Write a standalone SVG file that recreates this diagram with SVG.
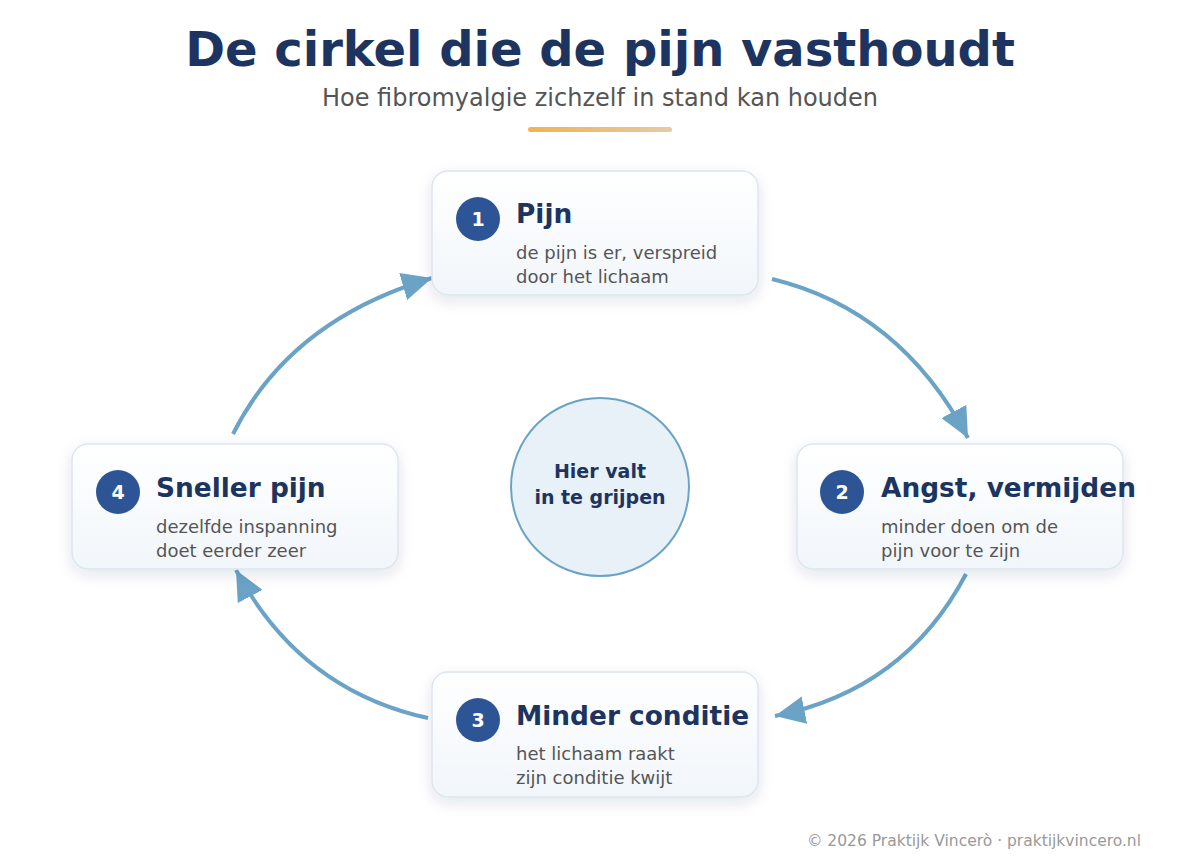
<svg xmlns="http://www.w3.org/2000/svg" width="1200" height="864" viewBox="0 0 1200 864">
<defs>
<linearGradient id="cg" x1="0" y1="0" x2="0" y2="1"><stop offset="0" stop-color="#ffffff"/><stop offset="1" stop-color="#f1f6fb"/></linearGradient>
<linearGradient id="ul" x1="0" y1="0" x2="1" y2="0"><stop offset="0" stop-color="#f0b453"/><stop offset="1" stop-color="#e6c9a6"/></linearGradient>
<filter id="sh" x="-20%" y="-20%" width="140%" height="150%"><feDropShadow dx="0" dy="5" stdDeviation="7" flood-color="#1d3461" flood-opacity="0.12"/></filter>
<marker id="ah" markerUnits="userSpaceOnUse" markerWidth="32" markerHeight="28" refX="30" refY="14" orient="auto"><path d="M0,0 L30,14 L0,28 Z" fill="#6aa3c6"/></marker>
<style>
text{font-family:"DejaVu Sans","Noto Sans",sans-serif}
.card{fill:url(#cg);stroke:#dde5ee;stroke-width:1.5;filter:url(#sh)}
.num{fill:#2d5596}
.nt{fill:#fff;font-size:19px;font-weight:bold;text-anchor:middle}
.tt{fill:#1d3461;font-size:26.4px;font-weight:bold}
.st{fill:#555;font-size:18px}
.arc{fill:none;stroke:#6aa3c6;stroke-width:4;marker-end:url(#ah)}
</style>
</defs>
<rect width="1200" height="864" fill="#fff"/>
<text x="600" y="66" text-anchor="middle" font-size="48" font-weight="bold" fill="#1d3461">De cirkel die de pijn vasthoudt</text>
<text x="600" y="106" text-anchor="middle" font-size="24" fill="#555">Hoe fibromyalgie zichzelf in stand kan houden</text>
<rect x="528" y="127" width="144" height="5" rx="2.5" fill="url(#ul)"/>
<g id="connectors">
<path class="arc" d="M772,279 Q900,310 968,438"/>
<path class="arc" d="M966,574 Q905,690 775,716"/>
<path class="arc" d="M428,718 Q300,690 236,570"/>
<path class="arc" d="M233,434 Q290,320 432,278"/>
</g>
<g id="center">
<circle cx="600" cy="487" r="89" fill="#e8f0f8" stroke="#6aa3c6" stroke-width="2"/>
<text x="600" y="478" text-anchor="middle" font-size="19" font-weight="bold" fill="#1d3461">Hier valt</text>
<text x="600" y="504" text-anchor="middle" font-size="19" font-weight="bold" fill="#1d3461">in te grijpen</text>
</g>
<g id="n1">
<rect class="card" x="432" y="171" width="326" height="124" rx="16"/>
<circle class="num" cx="478" cy="219" r="22"/><text class="nt" x="478" y="226">1</text>
<text class="tt" x="516" y="223">Pijn</text>
<text class="st" x="516" y="259">de pijn is er, verspreid</text>
<text class="st" x="516" y="283">door het lichaam</text>
</g>
<g id="n2">
<rect class="card" x="797" y="444" width="326" height="125" rx="16"/>
<circle class="num" cx="842" cy="492" r="22"/><text class="nt" x="842" y="499">2</text>
<text class="tt" x="881" y="497">Angst, vermijden</text>
<text class="st" x="881" y="533">minder doen om de</text>
<text class="st" x="881" y="557">pijn voor te zijn</text>
</g>
<g id="n3">
<rect class="card" x="432" y="672" width="326" height="125" rx="16"/>
<circle class="num" cx="478" cy="720" r="22"/><text class="nt" x="478" y="727">3</text>
<text class="tt" x="516" y="725">Minder conditie</text>
<text class="st" x="516" y="760">het lichaam raakt</text>
<text class="st" x="516" y="784">zijn conditie kwijt</text>
</g>
<g id="n4">
<rect class="card" x="72" y="444" width="326" height="125" rx="16"/>
<circle class="num" cx="118" cy="492" r="22"/><text class="nt" x="118" y="499">4</text>
<text class="tt" x="156" y="497">Sneller pijn</text>
<text class="st" x="156" y="533">dezelfde inspanning</text>
<text class="st" x="156" y="557">doet eerder zeer</text>
</g>
<text x="1141" y="846" text-anchor="end" font-size="15.5" fill="#999">© 2026 Praktijk Vincerò · praktijkvincero.nl</text>
</svg>
